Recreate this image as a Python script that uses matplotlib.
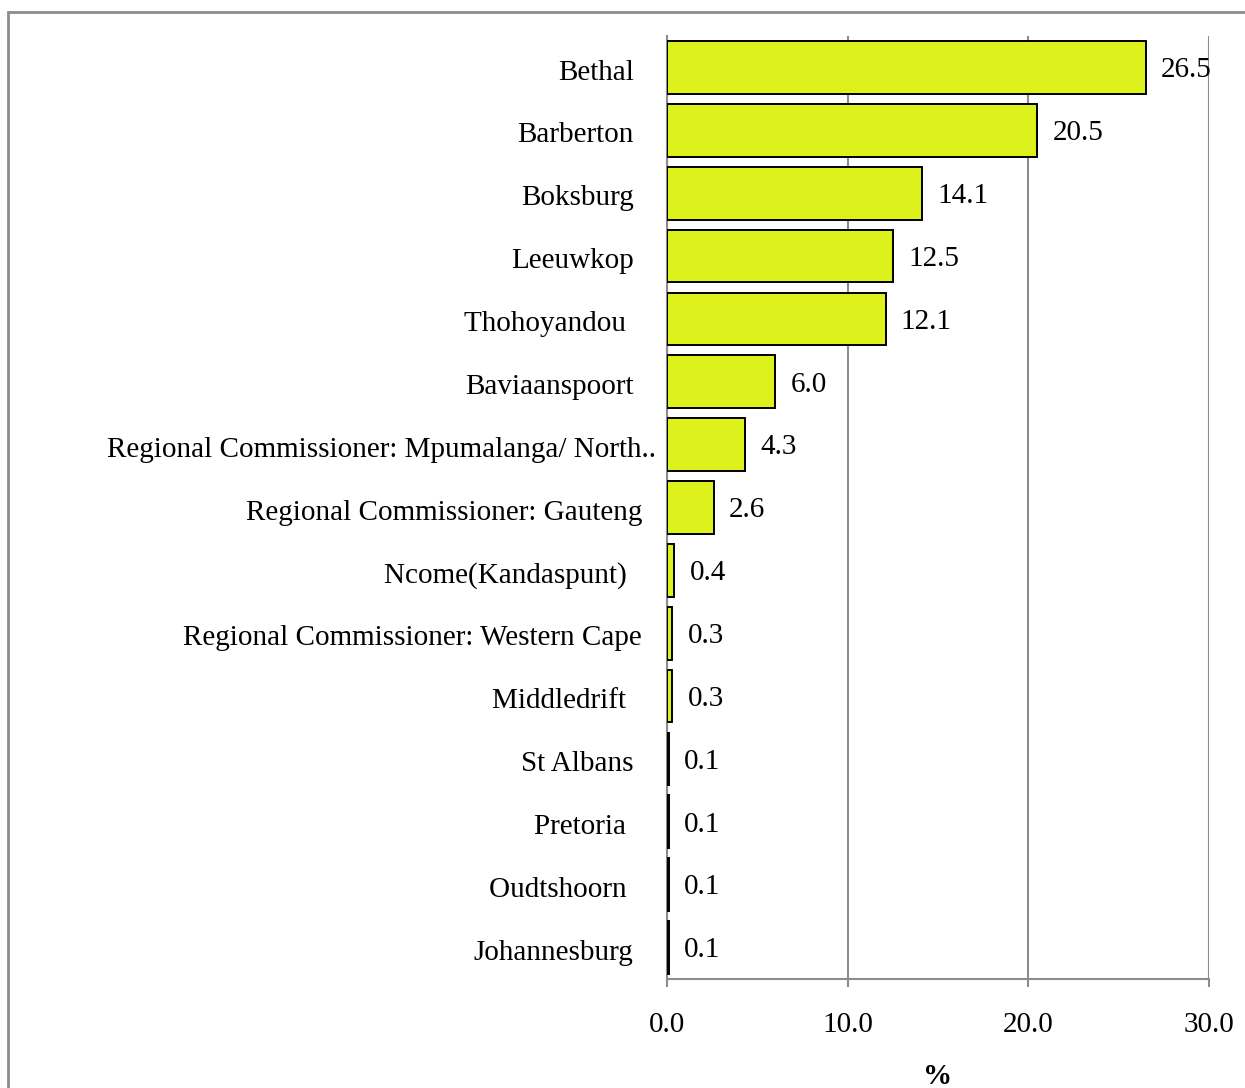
import matplotlib.pyplot as plt
from matplotlib.patches import Rectangle
from matplotlib.transforms import ScaledTranslation

plt.rcParams['font.family'] = ['Liberation Serif', 'DejaVu Serif']

places = ["Bethal", "Barberton", "Boksburg", "Leeuwkop", "Thohoyandou ",
          "Baviaanspoort", "Regional Commissioner: Mpumalanga/ North..",
          "Regional Commissioner: Gauteng", "Ncome(Kandaspunt) ",
          "Regional Commissioner: Western Cape", "Middledrift ", "St Albans",
          "Pretoria ", "Oudtshoorn ", "Johannesburg"]
share = [26.5, 20.5, 14.1, 12.5, 12.1, 6.0, 4.3, 2.6, 0.4, 0.3, 0.3, 0.1, 0.1, 0.1, 0.1]
xticks = [0, 10, 20, 30]

FS = 21

fig = plt.figure(figsize=(12.45, 10.88), dpi=100)
ax = fig.add_axes([0.5357, 0.1002, 0.4354, 0.8667])

ypos = list(range(len(places)))
ax.barh(ypos, share, height=0.84, color='#DDF21C', edgecolor='black',
        linewidth=1.4, zorder=3)

for y, v in zip(ypos, share):
    ax.annotate(f"{v:.1f}", (v, y), xytext=(11, -2), textcoords='offset points',
                ha='left', va='center', fontsize=FS, zorder=4)

ax.set_ylim(len(places) - 0.5, -0.5)
ax.set_xlim(0, 30)
ax.set_xticks(xticks)
ax.set_xticklabels([f"{t:.1f}" for t in xticks], fontsize=FS)
ax.set_yticks(ypos)
ax.set_yticklabels(places, fontsize=FS)
ax.tick_params(axis='y', length=0, pad=24)
ax.tick_params(axis='x', length=6, width=1.5, color='#8c8c8c', pad=18)

# the long regional labels sit a little further right
for lab in ax.get_yticklabels():
    txt = lab.get_text()
    if txt.startswith("Regional"):
        dx = 16 if "North" in txt else 6
        lab.set_transform(lab.get_transform() + ScaledTranslation(dx / 72, 0, fig.dpi_scale_trans))
    lab.set_transform(lab.get_transform() + ScaledTranslation(0, -1.5 / 72, fig.dpi_scale_trans))

ax.grid(axis='x', color='#8c8c8c', linewidth=1.5, zorder=0)
for side in ['top', 'right']:
    ax.spines[side].set_visible(False)
for side in ['left', 'bottom']:
    ax.spines[side].set_color('#8c8c8c')
    ax.spines[side].set_linewidth(1.5)

ax.set_xlabel('%', fontsize=FS, fontweight='bold', labelpad=18)

# outer frame of the chart area
fig.patches.append(Rectangle((8 / 1245, -0.1), 1.2, 1 - 12 / 1088 + 0.1,
                             transform=fig.transFigure, fill=False,
                             edgecolor='#8c8c8c', linewidth=2))

fig.savefig('out.png', dpi=100)
